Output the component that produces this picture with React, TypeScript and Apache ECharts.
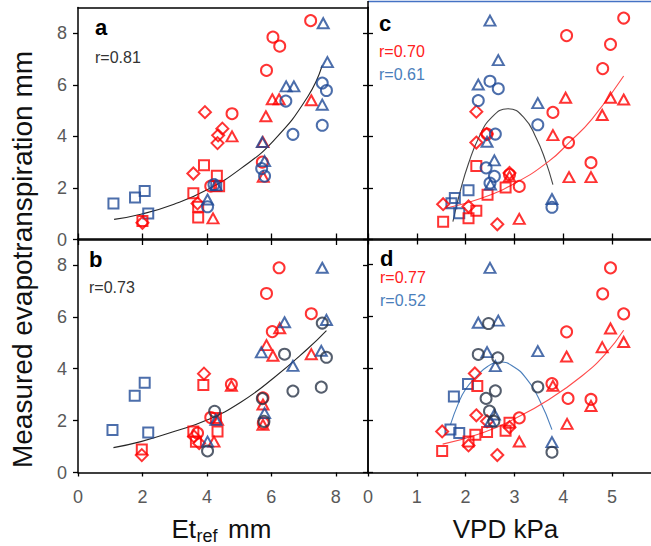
import React, { useEffect, useRef } from "react";
import * as echarts from "echarts";

// ---------- data ----------
// Panel a: Et_ref vs measured ET
const aBlueSquare = [[1.10, 1.40], [1.77, 1.63], [2.07, 1.88], [2.18, 1.01], [4.29, 2.08]];
const aRedSquare = [[3.91, 2.88], [4.31, 2.47], [3.58, 1.79], [3.73, 1.27], [3.73, 0.85], [4.38, 2.07], [2.0, 0.72]];
const aRedDiamond = [[3.94, 4.94], [4.48, 4.30], [4.35, 4.04], [4.33, 3.74], [3.58, 2.56], [2.0, 0.65], [3.71, 1.40]];
const aRedCircle = [[7.22, 8.49], [6.05, 7.85], [6.26, 7.50], [5.85, 6.56], [4.78, 4.88], [5.72, 3.0], [4.12, 2.07]];
const aRedTriangle = [[6.03, 5.44], [6.24, 5.44], [7.24, 5.40], [5.83, 4.78], [4.78, 4.0], [5.74, 3.78], [4.19, 0.82], [5.75, 2.43]];
const aBlueTriangle = [[7.61, 8.39], [7.74, 6.88], [6.46, 5.94], [6.70, 5.94], [7.58, 5.23], [5.72, 3.78], [5.79, 3.04], [4.02, 1.55], [4.28, 2.11]];
const aBlueCircle = [[7.58, 6.07], [7.71, 5.78], [6.45, 5.37], [7.58, 4.43], [6.67, 4.08], [5.70, 2.75], [5.79, 2.46], [4.22, 2.13], [4.02, 1.27]];
const aFit = [[1.12, 0.78], [1.95, 0.98], [2.98, 1.37], [4.02, 1.94], [5.05, 2.75], [6.08, 3.85], [7.12, 5.52], [7.58, 6.75]];

// Panel b: Et_ref vs measured ET
const bBlueSquare = [[2.07, 3.46], [1.76, 2.96], [1.07, 1.64], [2.18, 1.54]];
const bRedSquare = [[3.89, 3.37], [4.33, 1.58], [3.58, 1.58], [3.66, 1.19], [1.98, 0.89], [4.28, 2.10]];
const bRedDiamond = [[3.91, 3.81], [1.98, 0.67], [3.60, 1.39], [3.76, 1.13]];
const bRedCircle = [[6.24, 7.89], [5.85, 6.90], [7.24, 6.12], [6.03, 5.43], [4.76, 3.40], [5.74, 2.88], [5.75, 1.90], [4.12, 2.12], [3.71, 1.52]];
const bRedTriangle = [[6.26, 5.56], [5.85, 4.91], [6.05, 4.50], [7.24, 4.56], [4.76, 3.34], [5.74, 2.62], [5.74, 1.84], [4.22, 1.19], [4.33, 2.03]];
const bBlueTriangle = [[7.58, 7.89], [7.71, 5.88], [6.41, 5.79], [5.69, 4.63], [7.55, 4.69], [6.67, 4.11], [5.79, 2.29], [4.02, 1.19], [4.28, 2.03]];
const bDarkCircle = [[7.58, 5.76], [7.71, 4.44], [6.41, 4.56], [6.67, 3.14], [7.55, 3.29], [5.72, 2.85], [5.77, 1.97], [4.24, 2.36], [4.02, 0.83]];
const bFit = [[1.10, 0.96], [1.95, 1.19], [2.98, 1.58], [4.02, 2.03], [5.05, 2.71], [6.08, 3.65], [7.12, 4.76], [7.71, 5.47]];

// Panel c: VPD vs measured ET
const cBlueTriangle = [[2.50, 8.49], [2.67, 6.96], [2.26, 6.01], [3.48, 5.29], [2.44, 3.79], [2.59, 3.07], [2.51, 2.13], [3.77, 1.57]];
const cBlueCircle = [[2.50, 6.14], [2.67, 5.85], [2.26, 5.39], [3.48, 4.45], [2.61, 4.09], [2.42, 2.78], [2.59, 2.45], [2.50, 2.19], [3.77, 1.25]];
const cBlueSquare = [[1.78, 1.61], [1.71, 1.41], [2.06, 1.91], [1.87, 1.02]];
const cRedSquare = [[2.22, 2.85], [2.45, 1.74], [2.82, 2.02], [2.06, 0.82], [2.22, 1.12], [1.54, 0.69]];
const cRedDiamond = [[2.22, 4.96], [2.22, 3.76], [2.43, 4.09], [2.90, 2.58], [1.54, 1.37], [2.06, 1.28], [2.65, 0.59]];
const cRedCircle = [[5.24, 8.59], [4.07, 7.91], [4.97, 7.57], [4.81, 6.63], [3.79, 4.93], [4.11, 3.76], [4.57, 2.98], [3.10, 2.06], [2.44, 4.09], [2.90, 2.52]];
const cRedTriangle = [[4.05, 5.50], [4.97, 5.50], [5.24, 5.43], [4.80, 4.83], [3.79, 4.05], [4.12, 2.42], [4.57, 2.42], [3.10, 0.80], [2.90, 2.45]];
const cBlueFit = [[1.74, 0.69], [1.90, 1.95], [2.06, 2.95], [2.27, 3.95], [2.54, 4.75], [2.87, 5.07], [3.2, 4.72], [3.45, 3.93], [3.63, 3.1], [3.79, 2.13]];
const cRedFit = [[1.59, 1.21], [2.34, 1.61], [3.02, 2.19], [3.71, 3.04], [4.12, 3.76], [4.59, 4.67], [5.24, 6.34]];

// Panel d: VPD vs measured ET
const dBlueTriangle = [[2.50, 7.87], [2.26, 5.76], [2.67, 5.84], [2.44, 4.63], [3.48, 4.67], [2.61, 4.09], [2.59, 2.23], [2.51, 1.97], [3.77, 1.17]];
const dDarkCircle = [[2.47, 5.73], [2.26, 4.54], [2.66, 4.41], [3.48, 3.29], [2.61, 3.14], [2.42, 2.85], [2.49, 2.36], [2.58, 1.97], [3.77, 0.78]];
const dBlueSquare = [[2.05, 3.40], [1.76, 2.92], [1.69, 1.65], [1.87, 1.52]];
const dRedSquare = [[2.24, 3.33], [1.52, 0.83], [2.06, 1.19], [2.20, 1.45], [2.44, 1.56], [2.82, 1.61], [2.90, 1.91]];
const dRedDiamond = [[2.19, 3.81], [1.52, 1.58], [2.06, 1.04], [2.22, 2.20], [2.65, 0.67], [2.90, 1.74], [2.44, 1.97]];
const dRedCircle = [[4.97, 7.87], [4.81, 6.87], [5.24, 6.10], [4.07, 5.41], [3.77, 3.42], [4.10, 2.85], [4.57, 2.81], [3.10, 2.10]];
const dRedTriangle = [[4.97, 5.54], [4.80, 4.82], [5.24, 5.02], [4.07, 4.46], [3.79, 3.33], [4.57, 2.56], [4.08, 1.87], [3.10, 1.19]];
const dBlueFit = [[1.69, 1.84], [1.85, 2.65], [2.0, 3.2], [2.2, 3.65], [2.45, 4.08], [2.72, 4.25], [3.0, 4.05], [3.23, 3.65], [3.5, 2.85], [3.77, 1.65]];
const dRedFit = [[1.53, 1.09], [2.34, 1.52], [3.02, 2.08], [3.71, 2.81], [4.39, 3.72], [4.87, 4.57], [5.24, 5.47]];

const etTicks = [0, 2, 4, 6, 8];
const vpdTicks = [0, 1, 2, 3, 4, 5];
const yTicks = [0, 2, 4, 6, 8];
const rLabels = { a: ["r=0.81"], b: ["r=0.73"], c: ["r=0.70", "r=0.61"], d: ["r=0.77", "r=0.52"] };

// ---------- styling ----------
const FONT = "Liberation Sans, Arial, Helvetica, sans-serif";
const RED = "#ff0000";
const BLUE = "#1f4a96";
const DARK = "#2b3648";
const LABEL = "#595959";

const SYM: Record<string, any> = {
  rect: { symbol: "rect", size: 10 },
  circle: { symbol: "circle", size: 11 },
  triangle: { symbol: "triangle", size: [11, 10] },
  diamond: { symbol: "diamond", size: 12 },
};

function scatter(data: number[][], shape: string, color: string, xi: number, yi: number) {
  return {
    type: "scatter",
    xAxisIndex: xi,
    yAxisIndex: yi,
    data,
    symbol: SYM[shape].symbol,
    symbolSize: SYM[shape].size,
    itemStyle: { color: "rgba(0,0,0,0)", borderColor: color, borderWidth: 2 },
    silent: true,
    clip: false,
    z: 3,
  };
}

function fit(data: number[][], color: string, xi: number, yi: number) {
  return {
    type: "line",
    xAxisIndex: xi,
    yAxisIndex: yi,
    data,
    smooth: true,
    showSymbol: false,
    symbol: "none",
    lineStyle: { color, width: 1.1 },
    silent: true,
    z: 2,
  };
}

const axisLineStyle = { color: "#000", width: 1.5 };

function xAx(grid: number, pos: string, max: number, interval: number, ticks: number[], o: any) {
  return {
    type: "value",
    gridIndex: grid,
    position: pos,
    min: 0,
    max,
    interval,
    axisLine: { show: true, onZero: false, lineStyle: axisLineStyle },
    axisTick: {
      show: o.tick !== false,
      inside: !!o.inside,
      length: o.len || 5,
      customValues: ticks,
      lineStyle: { color: "#000", width: 1.3 },
    },
    axisLabel: {
      show: !!o.labels,
      customValues: ticks,
      color: LABEL,
      fontSize: 18,
      fontFamily: FONT,
      margin: 15,
    },
    splitLine: { show: false },
  };
}

function yAx(grid: number, pos: string, o: any) {
  return {
    type: "value",
    gridIndex: grid,
    position: pos,
    min: 0,
    max: 9,
    interval: 2,
    axisLine: { show: true, onZero: false, lineStyle: axisLineStyle },
    axisTick: {
      show: true,
      inside: !!o.inside,
      length: o.len || 5,
      customValues: yTicks,
      lineStyle: { color: "#000", width: 1.3 },
    },
    axisLabel: {
      show: !!o.labels,
      customValues: yTicks,
      color: LABEL,
      fontSize: 18,
      fontFamily: FONT,
      margin: 11,
    },
    splitLine: { show: false },
  };
}

function txt(text: string, x: number, y: number, size: number, color: string, extra: any = {}) {
  return {
    type: "text",
    x,
    y,
    silent: true,
    z: 10,
    style: {
      text,
      fill: color,
      fontSize: size,
      fontFamily: FONT,
      align: "left",
      verticalAlign: "middle",
      ...extra,
    },
  };
}

export default function App() {
  const ref = useRef<HTMLDivElement>(null);

  useEffect(() => {
    if (!ref.current) return;
    const chart = echarts.init(ref.current, undefined, { renderer: "svg" });

    const grids = [
      { left: 78, top: 7.5, width: 290, height: 232 },
      { left: 78, top: 239, width: 290, height: 233.5 },
      { left: 368, top: 7.5, width: 283, height: 232 },
      { left: 368, top: 238.5, width: 283, height: 234 },
    ].map((g) => ({ ...g, containLabel: false, outerBoundsMode: "none", show: false }));

    const xAxis = [
      xAx(0, "bottom", 9, 2, etTicks, { inside: true, len: 6 }), // 0 a bottom
      xAx(0, "top", 9, 2, etTicks, { tick: false }), // 1 a top
      xAx(1, "bottom", 9, 2, etTicks, { labels: true, len: 4 }), // 2 b bottom
      xAx(1, "top", 9, 2, etTicks, { inside: true, len: 6 }), // 3 b top
      xAx(2, "bottom", 5.8, 1, vpdTicks, { inside: true, len: 6 }), // 4 c bottom
      xAx(3, "bottom", 5.8, 1, vpdTicks, { labels: true, len: 4 }), // 5 d bottom
      xAx(3, "top", 5.8, 1, vpdTicks, { inside: true, len: 6 }), // 6 d top
    ];
    const yAxis = [
      yAx(0, "left", { labels: true, len: 5 }), // 0 a left
      yAx(0, "right", { inside: true, len: 5 }), // 1 a right
      yAx(1, "left", { labels: true, len: 5 }), // 2 b left
      yAx(1, "right", { inside: true, len: 5 }), // 3 b right
      yAx(2, "left", { inside: true, len: 5 }), // 4 c left
      yAx(3, "left", { inside: true, len: 5 }), // 5 d left
    ];

    const series = [
      // a
      fit(aFit, "#262626", 0, 0),
      scatter(aBlueSquare, "rect", BLUE, 0, 0),
      scatter(aRedSquare, "rect", RED, 0, 0),
      scatter(aRedDiamond, "diamond", RED, 0, 0),
      scatter(aRedCircle, "circle", RED, 0, 0),
      scatter(aRedTriangle, "triangle", RED, 0, 0),
      scatter(aBlueTriangle, "triangle", BLUE, 0, 0),
      scatter(aBlueCircle, "circle", BLUE, 0, 0),
      // b
      fit(bFit, "#262626", 2, 2),
      scatter(bBlueSquare, "rect", BLUE, 2, 2),
      scatter(bRedSquare, "rect", RED, 2, 2),
      scatter(bRedDiamond, "diamond", RED, 2, 2),
      scatter(bRedCircle, "circle", RED, 2, 2),
      scatter(bRedTriangle, "triangle", RED, 2, 2),
      scatter(bBlueTriangle, "triangle", BLUE, 2, 2),
      scatter(bDarkCircle, "circle", DARK, 2, 2),
      // c
      fit(cBlueFit, "#444444", 4, 4),
      fit(cRedFit, "#ff4a4a", 4, 4),
      scatter(cBlueSquare, "rect", BLUE, 4, 4),
      scatter(cRedSquare, "rect", RED, 4, 4),
      scatter(cRedDiamond, "diamond", RED, 4, 4),
      scatter(cRedCircle, "circle", RED, 4, 4),
      scatter(cRedTriangle, "triangle", RED, 4, 4),
      scatter(cBlueTriangle, "triangle", BLUE, 4, 4),
      scatter(cBlueCircle, "circle", BLUE, 4, 4),
      // d
      fit(dBlueFit, "#4a7ebb", 5, 5),
      fit(dRedFit, "#ff4a4a", 5, 5),
      scatter(dBlueSquare, "rect", BLUE, 5, 5),
      scatter(dRedSquare, "rect", RED, 5, 5),
      scatter(dRedDiamond, "diamond", RED, 5, 5),
      scatter(dRedCircle, "circle", RED, 5, 5),
      scatter(dRedTriangle, "triangle", RED, 5, 5),
      scatter(dBlueTriangle, "triangle", BLUE, 5, 5),
      scatter(dDarkCircle, "circle", DARK, 5, 5),
    ];

    const graphic = [
      // top border of panel c (blue) and its left edge extension
      { type: "line", silent: true, shape: { x1: 368, y1: 1.5, x2: 651, y2: 1.5 }, style: { stroke: "#4472c4", lineWidth: 1.5 } },
      { type: "line", silent: true, shape: { x1: 368, y1: 1, x2: 368, y2: 8 }, style: { stroke: "#000", lineWidth: 1.5 } },
      // panel letters
      txt("a", 95, 27.5, 22, "#000", { fontWeight: "bold" }),
      txt("b", 89, 259, 22, "#000", { fontWeight: "bold" }),
      txt("c", 379, 23, 22, "#000", { fontWeight: "bold" }),
      txt("d", 380, 258, 22, "#000", { fontWeight: "bold" }),
      // correlation labels
      txt(rLabels.a[0], 95, 57.5, 16, "#333"),
      txt(rLabels.b[0], 89, 287.5, 16, "#333"),
      txt(rLabels.c[0], 379, 51, 16, "#ff2020"),
      txt(rLabels.c[1], 379, 74, 16, "#4a7ebb"),
      txt(rLabels.d[0], 380, 277, 16, "#ff2020"),
      txt(rLabels.d[1], 380, 300, 16, "#4a7ebb"),
      // x axis titles
      txt("Et", 171.5, 529, 26, "#111"),
      txt("ref", 196.5, 535.5, 18, "#111"),
      txt("mm", 228, 529, 26, "#111"),
      txt("VPD kPa", 505.5, 529, 26, "#111", { align: "center" }),
      // y axis title
      {
        type: "text",
        x: 22,
        y: 259.5,
        rotation: Math.PI / 2,
        silent: true,
        style: {
          text: "Measured evapotranspiration mm",
          fill: "#111",
          fontSize: 28,
          fontFamily: FONT,
          align: "center",
          verticalAlign: "middle",
        },
      },
    ];

    chart.setOption({
      animation: false,
      backgroundColor: "#fff",
      grid: grids,
      xAxis,
      yAxis,
      series,
      graphic,
    });

    return () => chart.dispose();
  }, []);

  return (
    <div
      ref={ref}
      style={{ position: "absolute", left: 0, top: 0, width: 651, height: 546 }}
    />
  );
}
